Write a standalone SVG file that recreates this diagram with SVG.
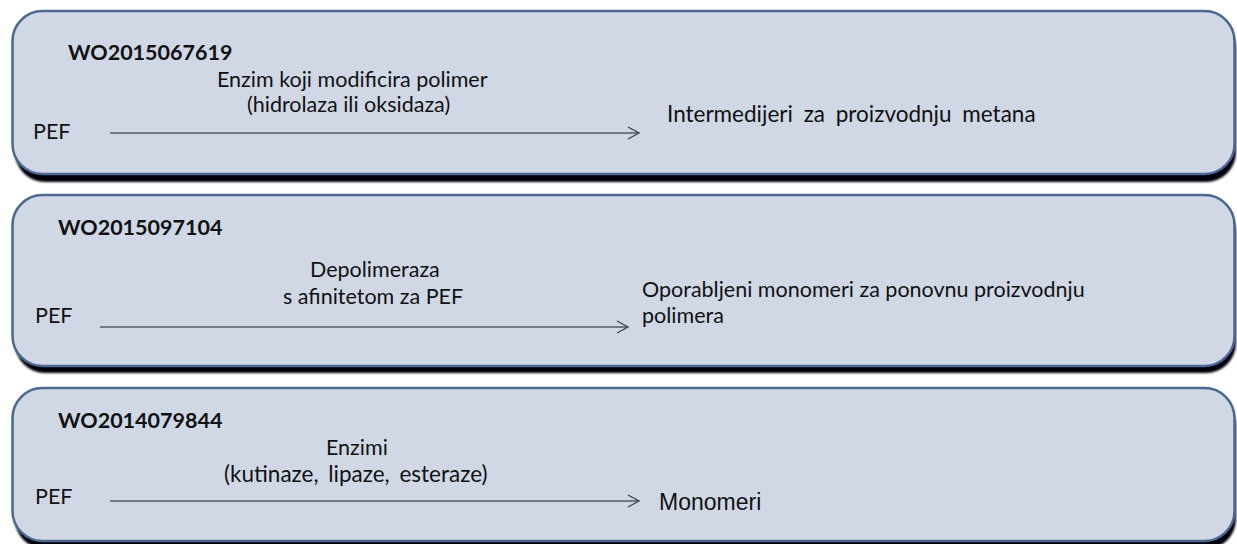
<svg xmlns="http://www.w3.org/2000/svg" width="1237" height="544" viewBox="0 0 1237 544">
  <style>
    .panel { fill: #d0d8e6; stroke: #4a6890; stroke-width: 2.5; }
    .shade { fill: #05050c; }
    .t { font-family: Lato, "Open Sans", sans-serif; font-size: 21.5px; fill: #111; }
    .b { font-weight: bold; }
    .wide { font-size: 22.5px; word-spacing: 5px; }
    .mid { font-size: 22.5px; word-spacing: 4px; }
    .m { font-family: "Liberation Sans", Arial, sans-serif; font-size: 23px; fill: #111; }
    .link { stroke: #555a66; stroke-width: 1.6; fill: none; }
  </style>
  <defs>
    <filter id="soft" x="-5%" y="-20%" width="110%" height="140%">
      <feGaussianBlur stdDeviation="1.3"/>
    </filter>
    <marker id="chev" markerWidth="14" markerHeight="14" refX="12" refY="7" orient="auto" markerUnits="userSpaceOnUse">
      <path d="M1,1 L12,7 L1,13" fill="none" stroke="#444" stroke-width="1.4"/>
    </marker>
  </defs>
  <rect width="1237" height="544" fill="#ffffff"/>

  <!-- panel 1 -->
  <g id="panel-1">
    <rect class="shade" x="15" y="18" width="1221" height="164" rx="30" filter="url(#soft)"/>
    <rect class="panel" x="12.5" y="11" width="1222" height="163" rx="30"/>
    <text class="t b" x="68" y="60">WO2015067619</text>
    <text class="t" x="217" y="87">Enzim koji modificira polimer</text>
    <text class="t" x="247" y="112">(hidrolaza ili oksidaza)</text>
    <text class="t" x="33" y="139">PEF</text>
    <text class="t wide" x="667" y="122">Intermedijeri za proizvodnju metana</text>
  </g>

  <!-- panel 2 -->
  <g id="panel-2">
    <rect class="shade" x="15" y="202" width="1221" height="171" rx="30" filter="url(#soft)"/>
    <rect class="panel" x="12.5" y="195" width="1222" height="171" rx="30"/>
    <text class="t b" x="58" y="235">WO2015097104</text>
    <text class="t" x="310" y="277">Depolimeraza</text>
    <text class="t" x="283" y="304">s afinitetom za PEF</text>
    <text class="t" x="35" y="323">PEF</text>
    <text class="t" x="642" y="297">Oporabljeni monomeri za ponovnu proizvodnju</text>
    <text class="t" x="642" y="323">polimera</text>
  </g>

  <!-- panel 3 -->
  <g id="panel-3">
    <rect class="shade" x="15" y="395" width="1221" height="154" rx="30" filter="url(#soft)"/>
    <rect class="panel" x="12.5" y="388" width="1222" height="153" rx="30"/>
    <text class="t b" x="58" y="428">WO2014079844</text>
    <text class="t" x="326" y="455">Enzimi</text>
    <text class="t mid" x="224" y="482">(kutinaze, lipaze, esteraze)</text>
    <text class="t" x="35" y="504">PEF</text>
    <text class="m" x="659" y="510">Monomeri</text>
  </g>

  <!-- connectors -->
  <g id="connectors">
    <line class="link" x1="110" y1="133" x2="639" y2="133" marker-end="url(#chev)"/>
    <line class="link" x1="100" y1="327" x2="628" y2="327" marker-end="url(#chev)"/>
    <line class="link" x1="110" y1="501" x2="639" y2="501" marker-end="url(#chev)"/>
  </g>
</svg>
